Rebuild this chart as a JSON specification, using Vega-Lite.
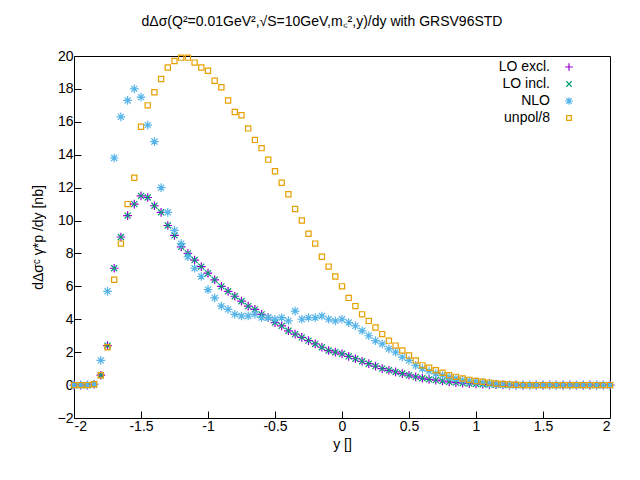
{
  "$schema": "https://vega.github.io/schema/vega-lite/v6.json",
  "width": 536,
  "height": 362,
  "autosize": "none",
  "padding": {"left": 74, "top": 56, "right": 30, "bottom": 62},
  "background": "#ffffff",
  "config": {
    "font": "Liberation Sans",
    "view": {"stroke": "#000000", "strokeWidth": 1},
    "axis": {"grid": false, "domain": false, "ticks": true, "tickSize": -7, "tickColor": "#000000", "labelColor": "#000000", "labelFontSize": 14, "titleFontSize": 14, "titleFontWeight": "normal", "titleColor": "#000000", "labelFont": "Liberation Sans", "titleFont": "Liberation Sans"}
  },
  "title": {"text": "dΔσ(Q²=0.01GeV²,√S=10GeV,m꜀²,y)/dy with GRSV96STD", "fontSize": 14, "fontWeight": "normal", "font": "Liberation Sans", "offset": 20, "dx": -20},
  "data": {
    "values": [
      {"y": -2.0, "excl": 0, "nlo": 0, "unpol": 0},
      {"y": -1.95, "excl": 0, "nlo": 0, "unpol": 0},
      {"y": -1.9, "excl": 0, "nlo": 0, "unpol": 0},
      {"y": -1.85, "excl": 0.05, "nlo": 0.05, "unpol": 0.05},
      {"y": -1.8, "excl": 0.6, "nlo": 1.5, "unpol": 0.6},
      {"y": -1.75, "excl": 2.4, "nlo": 5.7, "unpol": 2.3},
      {"y": -1.7, "excl": 7.1, "nlo": 13.8, "unpol": 6.4},
      {"y": -1.65, "excl": 9.0, "nlo": 16.3, "unpol": 8.6},
      {"y": -1.6, "excl": 10.3, "nlo": 17.3, "unpol": 11.0},
      {"y": -1.55, "excl": 11.0, "nlo": 18.0, "unpol": 12.6},
      {"y": -1.5, "excl": 11.5, "nlo": 17.5, "unpol": 15.7},
      {"y": -1.45, "excl": 11.4, "nlo": 15.8, "unpol": 17.0},
      {"y": -1.4, "excl": 10.9, "nlo": 14.8, "unpol": 17.8},
      {"y": -1.35, "excl": 10.5, "nlo": 12.0, "unpol": 18.6},
      {"y": -1.3, "excl": 9.7, "nlo": 10.5, "unpol": 19.3},
      {"y": -1.25, "excl": 9.1, "nlo": 9.4, "unpol": 19.7},
      {"y": -1.2, "excl": 8.4, "nlo": 8.6, "unpol": 19.9},
      {"y": -1.15, "excl": 8.0, "nlo": 7.8, "unpol": 19.9},
      {"y": -1.1, "excl": 7.6, "nlo": 7.1, "unpol": 19.6},
      {"y": -1.05, "excl": 7.2, "nlo": 6.6, "unpol": 19.3},
      {"y": -1.0, "excl": 6.8, "nlo": 5.8, "unpol": 19.1},
      {"y": -0.95, "excl": 6.4, "nlo": 5.3, "unpol": 18.5},
      {"y": -0.9, "excl": 6.0, "nlo": 4.8, "unpol": 18.1},
      {"y": -0.85, "excl": 5.7, "nlo": 4.6, "unpol": 17.3},
      {"y": -0.8, "excl": 5.4, "nlo": 4.3, "unpol": 16.6},
      {"y": -0.75, "excl": 5.1, "nlo": 4.2, "unpol": 16.4},
      {"y": -0.7, "excl": 4.8, "nlo": 4.2, "unpol": 15.6},
      {"y": -0.65, "excl": 4.6, "nlo": 4.3, "unpol": 14.9},
      {"y": -0.6, "excl": 4.3, "nlo": 4.1, "unpol": 14.4},
      {"y": -0.55, "excl": 4.1, "nlo": 4.1, "unpol": 13.7},
      {"y": -0.5, "excl": 3.8, "nlo": 4.0, "unpol": 13.0},
      {"y": -0.45, "excl": 3.6, "nlo": 4.1, "unpol": 12.3},
      {"y": -0.4, "excl": 3.3, "nlo": 3.9, "unpol": 11.6},
      {"y": -0.35, "excl": 3.1, "nlo": 4.5, "unpol": 10.7},
      {"y": -0.3, "excl": 2.9, "nlo": 4.0, "unpol": 10.0},
      {"y": -0.25, "excl": 2.7, "nlo": 4.1, "unpol": 9.2},
      {"y": -0.2, "excl": 2.5, "nlo": 4.1, "unpol": 8.6},
      {"y": -0.15, "excl": 2.3, "nlo": 4.2, "unpol": 7.8},
      {"y": -0.1, "excl": 2.1, "nlo": 4.0, "unpol": 7.2},
      {"y": -0.05, "excl": 2.0, "nlo": 3.9, "unpol": 6.6},
      {"y": 0.0, "excl": 1.9, "nlo": 4.0, "unpol": 6.0},
      {"y": 0.05, "excl": 1.75, "nlo": 3.8, "unpol": 5.3},
      {"y": 0.1, "excl": 1.6, "nlo": 3.6, "unpol": 4.8},
      {"y": 0.15, "excl": 1.45, "nlo": 3.3, "unpol": 4.3},
      {"y": 0.2, "excl": 1.3, "nlo": 3.0, "unpol": 3.9},
      {"y": 0.25, "excl": 1.15, "nlo": 2.7, "unpol": 3.5},
      {"y": 0.3, "excl": 1.0, "nlo": 2.5, "unpol": 3.1},
      {"y": 0.35, "excl": 0.9, "nlo": 2.2, "unpol": 2.7},
      {"y": 0.4, "excl": 0.8, "nlo": 2.0, "unpol": 2.4},
      {"y": 0.45, "excl": 0.7, "nlo": 1.7, "unpol": 2.1},
      {"y": 0.5, "excl": 0.6, "nlo": 1.5, "unpol": 1.8},
      {"y": 0.55, "excl": 0.5, "nlo": 1.2, "unpol": 1.5},
      {"y": 0.6, "excl": 0.42, "nlo": 1.0, "unpol": 1.2},
      {"y": 0.65, "excl": 0.35, "nlo": 0.85, "unpol": 1.05},
      {"y": 0.7, "excl": 0.3, "nlo": 0.7, "unpol": 0.9},
      {"y": 0.75, "excl": 0.25, "nlo": 0.6, "unpol": 0.75},
      {"y": 0.8, "excl": 0.2, "nlo": 0.5, "unpol": 0.6},
      {"y": 0.85, "excl": 0.15, "nlo": 0.4, "unpol": 0.5},
      {"y": 0.9, "excl": 0.12, "nlo": 0.3, "unpol": 0.4},
      {"y": 0.95, "excl": 0.09, "nlo": 0.25, "unpol": 0.32},
      {"y": 1.0, "excl": 0.07, "nlo": 0.2, "unpol": 0.25},
      {"y": 1.05, "excl": 0.05, "nlo": 0.15, "unpol": 0.2},
      {"y": 1.1, "excl": 0.03, "nlo": 0.1, "unpol": 0.15},
      {"y": 1.15, "excl": 0.02, "nlo": 0.06, "unpol": 0.1},
      {"y": 1.2, "excl": 0.01, "nlo": 0.03, "unpol": 0.07},
      {"y": 1.25, "excl": 0, "nlo": 0.02, "unpol": 0.04},
      {"y": 1.3, "excl": 0, "nlo": 0, "unpol": 0.02},
      {"y": 1.35, "excl": 0, "nlo": 0, "unpol": 0},
      {"y": 1.4, "excl": 0, "nlo": 0, "unpol": 0},
      {"y": 1.45, "excl": 0, "nlo": 0, "unpol": 0},
      {"y": 1.5, "excl": 0, "nlo": 0, "unpol": 0},
      {"y": 1.55, "excl": 0, "nlo": 0, "unpol": 0},
      {"y": 1.6, "excl": 0, "nlo": 0, "unpol": 0},
      {"y": 1.65, "excl": 0, "nlo": 0, "unpol": 0},
      {"y": 1.7, "excl": 0, "nlo": 0, "unpol": 0},
      {"y": 1.75, "excl": 0, "nlo": 0, "unpol": 0},
      {"y": 1.8, "excl": 0, "nlo": 0, "unpol": 0},
      {"y": 1.85, "excl": 0, "nlo": 0, "unpol": 0},
      {"y": 1.9, "excl": 0, "nlo": 0, "unpol": 0},
      {"y": 1.95, "excl": 0, "nlo": 0, "unpol": 0},
      {"y": 2.0, "excl": 0, "nlo": 0, "unpol": 0}
    ]
  },
  "transform": [
    {"fold": ["excl", "excl", "nlo", "unpol"], "as": ["key", "value"]},
    {"window": [{"op": "row_number", "as": "rn"}], "groupby": ["y", "key"]},
    {"calculate": "datum.key == 'excl' ? (datum.rn == 1 ? 'LO excl.' : 'LO incl.') : datum.key == 'nlo' ? 'NLO' : 'unpol/8'", "as": "series"}
  ],
  "mark": {"type": "point", "filled": false, "strokeWidth": 1.2, "size": 75, "opacity": 1},
  "encoding": {
    "x": {"field": "y", "type": "quantitative", "scale": {"domain": [-2, 2]}, "axis": {"title": "y []", "values": [-2, -1.5, -1, -0.5, 0, 0.5, 1, 1.5, 2], "labelExpr": "datum.value", "labelPadding": 8}},
    "y": {"field": "value", "type": "quantitative", "scale": {"domain": [-2, 20]}, "axis": {"title": "dΔσᶜ γ*p /dy [nb]", "values": [-2, 0, 2, 4, 6, 8, 10, 12, 14, 16, 18, 20], "labelPadding": 8, "titlePadding": 12}},
    "color": {"field": "series", "type": "nominal", "scale": {"domain": ["LO excl.", "LO incl.", "NLO", "unpol/8"], "range": ["#9400d3", "#009e73", "#56b4e9", "#e69f00"]},
      "legend": {"title": null, "orient": "none", "legendX": 488, "legendY": 4, "labelAlign": "right", "labelOffset": -26, "labelFontSize": 14, "labelColor": "#000000", "rowPadding": 3, "symbolSize": 60, "symbolStrokeWidth": 1.2}},
    "shape": {"field": "series", "type": "nominal", "scale": {"domain": ["LO excl.", "LO incl.", "NLO", "unpol/8"], "range": ["M-1,0H1M0,-1V1", "M-0.7,-0.7L0.7,0.7M-0.7,0.7L0.7,-0.7", "M-1,0H1M0,-1V1M-0.7,-0.7L0.7,0.7M-0.7,0.7L0.7,-0.7", "M-0.6,-0.6H0.6V0.6H-0.6Z"]}}
  }
}
